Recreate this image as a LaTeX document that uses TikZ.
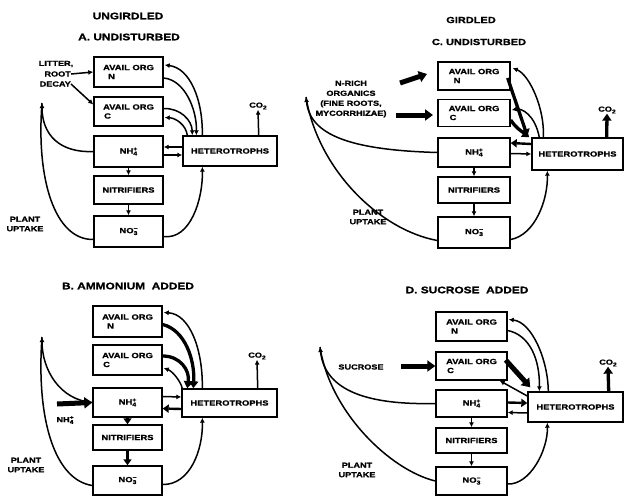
\documentclass[tikz,border=0pt]{standalone}
\usepackage{fontspec}
\newfontfamily\lab[FakeStretch=1.25,FakeBold=1.2]{Liberation Sans}
\usetikzlibrary{arrows.meta,calc}
\newcommand\SupSub[2]{\rlap{\raisebox{2.8pt}{\fontsize{5.5}{5.5}\selectfont #1}}\raisebox{-1.8pt}{\fontsize{5.5}{5.5}\selectfont #2}}
\tikzset{
  bx/.style={draw, line width=1.4pt, inner sep=0pt, align=left, font=\lab\bfseries\fontsize{7.5}{9}\selectfont},
  lbl/.style={inner sep=0pt, align=center, font=\lab\bfseries\fontsize{7.3}{9.5}\selectfont},
  ttl/.style={inner sep=0pt, font=\lab\bfseries\fontsize{9.5}{11}\selectfont},
  ttlc/.style={inner sep=0pt, font=\lab\bfseries\fontsize{8.8}{10}\selectfont},
  ln/.style={line width=1.5pt},
  thin/.style={line width=1.5pt, -{Latex[length=5pt,width=5pt]}},
  med/.style={line width=2.4pt, -{Triangle[length=6pt,width=8pt]}},
  thick/.style={line width=3.3pt, -{Triangle[length=7pt,width=9pt]}},
  block/.style={line width=5pt, -{Triangle[length=8pt,width=11pt]}},
}
\begin{document}
\begin{tikzpicture}[x=1pt,y=-1pt]
\fill[white] (0,0) rectangle (625,496);
\useasboundingbox (0,0) rectangle (625,496);

% ================= Panel A =================
\node[ttl] (A-t1) at (128,16) {UNGIRDLED};
\node[ttl] (A-t2) at (129,37) {A. UNDISTURBED};
\node[bx, minimum width=69pt, minimum height=30pt] (A-N) at (128.5,72) {AVAIL ORG\\\hspace*{5pt}N};
\node[bx, minimum width=69pt, minimum height=29pt] (A-C) at (128.5,111.5) {AVAIL ORG\\\hspace*{1pt}C};
\node[bx, minimum width=69pt, minimum height=31pt] (A-NH) at (128.5,151.5) {NH\SupSub{+}{4}};
\node[bx, minimum width=69pt, minimum height=28pt] (A-NI) at (128.5,190) {NITRIFIERS};
\node[bx, minimum width=69pt, minimum height=31pt] (A-NO) at (128.5,231.5) {NO\SupSub{−}{3}};
\node[bx, minimum width=94pt, minimum height=30pt] (A-H) at (230,151) {HETEROTROPHS};
\node[lbl] (A-co2) at (258,106) {CO\raisebox{-1.8pt}{\fontsize{5.5}{5.5}\selectfont 2}};
\node[lbl] (A-l1) at (56,64) {LITTER,};
\node[lbl, anchor=east] (A-l2) at (71,74) {ROOT};
\node[lbl, anchor=east] (A-l3) at (71,84) {DECAY};
\node[lbl] (A-pu) at (25,224) {PLANT\\UPTAKE};
\coordinate (A-up) at (42,103);

\draw[thin] (A-l2.east) -- (A-N.west);
\draw[thin] (A-l3.east) -- ($(A-C.west)+(0,-7)$);
\draw[thin] (A-NH.west) .. controls (60,153) and (42,135) .. (A-up);
\draw[ln] ($(A-NO.west)+(0,8)$) .. controls (55,240) and (36,180) .. (A-up);
\draw[thin] ($(A-N.east)+(0,6)$) .. controls (185,80) and (197,110) .. ($(A-H.north west)+(14,0)$);
\draw[thin] ($(A-H.north west)+(20,0)$) .. controls (203,100) and (190,68) .. ($(A-N.east)+(1,-7)$);
\draw[thin] ($(A-C.east)+(0,-3)$) .. controls (180,108) and (192,120) .. ($(A-H.north west)+(10,0)$);
\draw[thin] ($(A-H.north west)+(5,0)$) .. controls (186,125) and (176,118) .. ($(A-C.east)+(1,6)$);
\draw[thin] ($(A-H.west)+(0,-4)$) -- ($(A-NH.east)+(0,-4.5)$);
\draw[thin] ($(A-NH.east)+(0,3.5)$) -- ($(A-H.west)+(0,4)$);
\draw[thin] (A-NH.south) -- (A-NI.north);
\draw[thin] (A-NI.south) -- (A-NO.north);
\draw[thin] ($(A-NO.east)+(0,5)$) .. controls (190,240) and (203,200) .. ($(A-H.south west)+(20,0)$);
\draw[thin] ($(A-H.north east)+(-19,0)$) -- (A-co2.south);

% ================= Panel B =================
\node[ttl] (B-t) at (128,286) {B. AMMONIUM\ \ ADDED};
\node[bx, minimum width=69pt, minimum height=31pt] (B-N) at (127.5,321.5) {AVAIL ORG\\\hspace*{5pt}N};
\node[bx, minimum width=69pt, minimum height=30pt] (B-C) at (127.5,360) {AVAIL ORG\\\hspace*{1pt}C};
\node[bx, minimum width=69pt, minimum height=29pt] (B-NH) at (127.5,402.5) {NH\SupSub{+}{4}};
\node[bx, minimum width=69pt, minimum height=25pt] (B-NI) at (127.5,437.5) {NITRIFIERS};
\node[bx, minimum width=69pt, minimum height=29pt] (B-NO) at (127.5,480.5) {NO\SupSub{−}{3}};
\node[bx, minimum width=95pt, minimum height=28pt] (B-H) at (229.5,403) {HETEROTROPHS};
\node[lbl] (B-co2) at (257,356) {CO\raisebox{-1.8pt}{\fontsize{5.5}{5.5}\selectfont 2}};
\node[lbl] (B-nh) at (65,420) {NH\SupSub{+}{4}};
\node[lbl] (B-pu) at (26,465) {PLANT\\UPTAKE};
\coordinate (B-up) at (42,337);
\coordinate (B-in) at (57,404);

\draw[block] (B-in) -- (B-NH.west);
\draw[thin] (B-NH.west) .. controls (60,400) and (42,370) .. (B-up);
\draw[ln] ($(B-NO.west)+(0,5)$) .. controls (55,480) and (36,420) .. (B-up);
\draw[thick] ($(B-N.east)+(0,3)$) .. controls (185,330) and (195,360) .. ($(B-H.north west)+(12,0)$);
\draw[thick] ($(B-C.east)+(0,-4)$) .. controls (180,356) and (190,370) .. ($(B-H.north west)+(6,0)$);
\draw[thin] ($(B-H.north west)+(21,0)$) .. controls (203,350) and (190,314) .. ($(B-N.east)+(1,-9)$);
\draw[thin] ($(B-H.north west)+(1,0)$) .. controls (180,380) and (172,371) .. ($(B-C.east)+(1,8)$);
\draw[thin] ($(B-NH.east)+(0,-6)$) -- ($(B-H.west)+(0,-6)$);
\draw[med] ($(B-H.west)+(0,6)$) -- ($(B-NH.east)+(0,6)$);
\draw[med] (B-NH.south) -- (B-NI.north);
\draw[med] (B-NI.south) -- (B-NO.north);
\draw[thin] ($(B-NO.east)+(0,4)$) .. controls (190,485) and (203,450) .. ($(B-H.south west)+(21,0)$);
\draw[thin] ($(B-H.north east)+(-20,0)$) -- (B-co2.south);

% ================= Panel C =================
\node[ttlc] (C-t1) at (471,20) {GIRDLED};
\node[ttlc] (C-t2) at (479,42) {C. UNDISTURBED};
\node[bx, minimum width=72pt, minimum height=28pt] (C-N) at (474,76) {AVAIL ORG\\\hspace*{5pt}N};
\node[bx, minimum width=72pt, minimum height=27pt] (C-C) at (474,113) {AVAIL ORG\\\hspace*{1pt}C};
\node[bx, minimum width=72pt, minimum height=29pt] (C-NH) at (474,152.5) {NH\SupSub{+}{4}};
\node[bx, minimum width=72pt, minimum height=26pt] (C-NI) at (474,190) {NITRIFIERS};
\node[bx, minimum width=72pt, minimum height=31pt] (C-NO) at (474,232.5) {NO\SupSub{−}{3}};
\node[bx, minimum width=91pt, minimum height=32pt] (C-H) at (577.5,154) {HETEROTROPHS};
\node[lbl] (C-co2) at (607,110) {CO\raisebox{-1.8pt}{\fontsize{5.5}{5.5}\selectfont 2}};
\node[lbl, font=\lab\bfseries\fontsize{7.3}{10}\selectfont] (C-org) at (351,99) {N-RICH\\ORGANICS\\(FINE ROOTS,\\MYCORRHIZAE)};
\node[lbl] (C-pu) at (368,217) {PLANT\\UPTAKE};
\coordinate (C-up) at (306,97);
\coordinate (C-a1) at (400,83);
\coordinate (C-a1e) at (427,74);
\coordinate (C-a2) at (396,115);
\coordinate (C-a2e) at (433,115);

\draw[block] (C-a1) -- (C-a1e);
\draw[block] (C-a2) -- (C-a2e);
\draw[thin] (C-NH.west) .. controls (350,150) and (310,135) .. (C-up);
\draw[ln] ($(C-NO.west)+(0,8)$) .. controls (380,230) and (318,170) .. (C-up);
\draw[thick] ($(C-N.east)+(-3,2)$) .. controls (515,100) and (522,120) .. ($(C-H.north west)+(-4,-1)$);
\draw[thin] ($(C-H.north west)+(12,0)$) .. controls (545,110) and (530,75) .. ($(C-N.east)+(2,-8)$);
\draw[thick] ($(C-C.east)+(0,7)$) .. controls (516,128) and (520,130) .. ($(C-H.north west)+(-2,0)$);
\draw[thin] ($(C-H.north west)+(8,0)$) .. controls (535,115) and (522,108) .. ($(C-C.east)+(1,-3)$);
\draw[med] ($(C-H.west)+(0,-10)$) -- ($(C-NH.east)+(0,-9.5)$);
\draw[thin] ($(C-NH.east)+(0,1)$) -- (C-H.west);
\draw[thin] (C-NH.south) -- (C-NI.north);
\draw[thin] (C-NI.south) -- (C-NO.north);
\draw[thin] ($(C-NO.east)+(0,7)$) .. controls (535,235) and (548,200) .. ($(C-H.south west)+(16,0)$);
\draw[thick] ($(C-H.north east)+(-17,0)$) -- (C-co2.south);

% ================= Panel D =================
\node[ttl] (D-t) at (467,290) {D. SUCROSE\ \ ADDED};
\node[bx, minimum width=71pt, minimum height=29pt] (D-N) at (471.5,326.5) {AVAIL ORG\\\hspace*{5pt}N};
\node[bx, minimum width=71pt, minimum height=28pt] (D-C) at (471.5,366) {AVAIL ORG\\\hspace*{1pt}C};
\node[bx, minimum width=71pt, minimum height=27pt] (D-NH) at (471.5,403.5) {NH\SupSub{+}{4}};
\node[bx, minimum width=71pt, minimum height=25pt] (D-NI) at (471.5,440.5) {NITRIFIERS};
\node[bx, minimum width=71pt, minimum height=28pt] (D-NO) at (471.5,481) {NO\SupSub{−}{3}};
\node[bx, minimum width=95pt, minimum height=30pt] (D-H) at (575.5,407) {HETEROTROPHS};
\node[lbl] (D-co2) at (608,363) {CO\raisebox{-1.8pt}{\fontsize{5.5}{5.5}\selectfont 2}};
\node[lbl] (D-suc) at (361,367) {SUCROSE};
\node[lbl] (D-pu) at (357,470) {PLANT\\UPTAKE};
\coordinate (D-up) at (320,347);
\coordinate (D-s) at (401,366);

\draw[block] (D-s) -- (D-C.west);
\draw[thin] (D-NH.west) .. controls (370,405) and (325,392) .. (D-up);
\draw[ln] (D-NO.west) .. controls (390,470) and (330,412) .. (D-up);
\draw[block] ($(D-C.east)+(-2,-6)$) -- ($(D-H.north west)+(3,-4)$);
\draw[thin] ($(D-H.west)+(0,-11)$) -- ($(D-C.south east)+(-8,0)$);
\draw[thin] ($(D-N.east)+(0,4)$) .. controls (530,335) and (540,360) .. ($(D-H.north west)+(12,0)$);
\draw[thin] ($(D-H.north west)+(21,0)$) .. controls (548,360) and (532,322) .. ($(D-N.east)+(1,-7)$);
\draw[med] ($(D-NH.east)+(0,-1)$) -- ($(D-H.west)+(0,-4)$);
\draw[thin] ($(D-H.west)+(0,6)$) -- ($(D-NH.east)+(0,9)$);
\draw[thin] (D-NH.south) -- (D-NI.north);
\draw[thin] (D-NI.south) -- (D-NO.north);
\draw[thin] ($(D-NO.east)+(0,3)$) .. controls (530,485) and (548,450) .. ($(D-H.south west)+(20,0)$);
\draw[thick] ($(D-H.north east)+(-15,0)$) -- (D-co2.south);
\end{tikzpicture}
\end{document}
